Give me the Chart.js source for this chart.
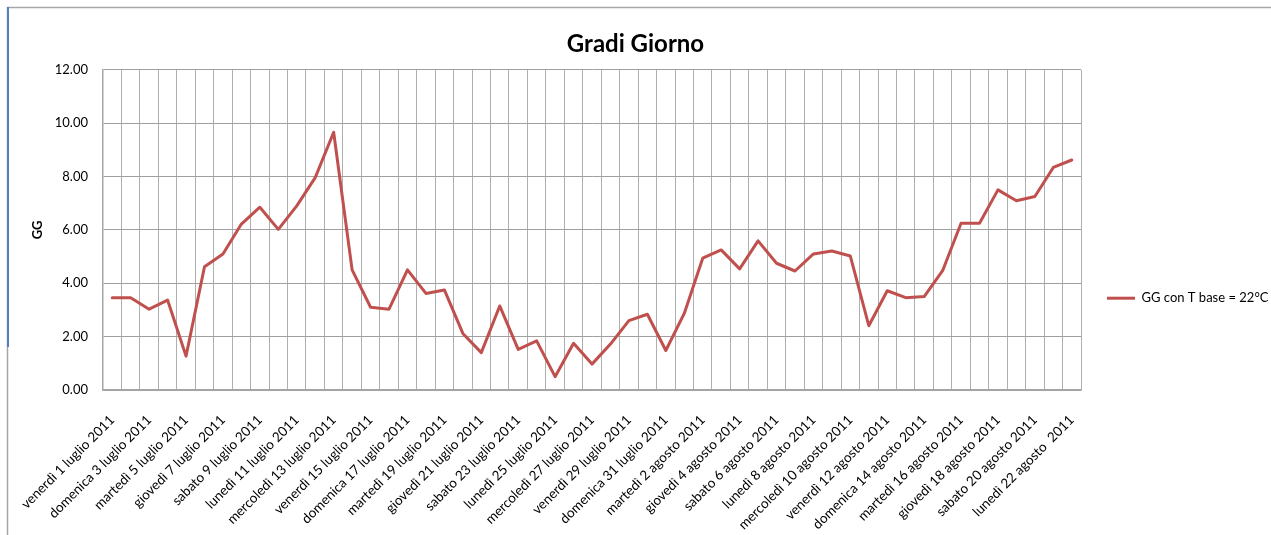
<!DOCTYPE html>
<html lang="it">
<head>
<meta charset="utf-8">
<title>Gradi Giorno</title>
<script src="https://cdn.jsdelivr.net/npm/chart.js@4.4.1/dist/chart.umd.min.js"></script>
<style>
  html, body { margin: 0; padding: 0; background: #ffffff; }
  #wrap { position: relative; width: 1271px; height: 535px; }
</style>
</head>
<body>
<div id="wrap"><canvas id="chart" width="1271" height="535"></canvas></div>
<script>
// Giorni del periodo (luglio e agosto 2011)
const giorniLuglio = [
  'venerdì 1 luglio 2011', 'sabato 2 luglio 2011', 'domenica 3 luglio 2011', 'lunedì 4 luglio 2011',
  'martedì 5 luglio 2011', 'mercoledì 6 luglio 2011', 'giovedì 7 luglio 2011', 'venerdì 8 luglio 2011',
  'sabato 9 luglio 2011', 'domenica 10 luglio 2011', 'lunedì 11 luglio 2011', 'martedì 12 luglio 2011',
  'mercoledì 13 luglio 2011', 'giovedì 14 luglio 2011', 'venerdì 15 luglio 2011', 'sabato 16 luglio 2011',
  'domenica 17 luglio 2011', 'lunedì 18 luglio 2011', 'martedì 19 luglio 2011', 'mercoledì 20 luglio 2011',
  'giovedì 21 luglio 2011', 'venerdì 22 luglio 2011', 'sabato 23 luglio 2011', 'domenica 24 luglio 2011',
  'lunedì 25 luglio 2011', 'martedì 26 luglio 2011', 'mercoledì 27 luglio 2011', 'giovedì 28 luglio 2011',
  'venerdì 29 luglio 2011', 'sabato 30 luglio 2011', 'domenica 31 luglio 2011'
];
const giorniAgosto = [
  'lunedì 1 agosto 2011', 'martedì 2 agosto 2011', 'mercoledì 3 agosto 2011', 'giovedì 4 agosto 2011',
  'venerdì 5 agosto 2011', 'sabato 6 agosto 2011', 'domenica 7 agosto 2011', 'lunedì 8 agosto 2011',
  'martedì 9 agosto 2011', 'mercoledì 10 agosto 2011', 'giovedì 11 agosto 2011', 'venerdì 12 agosto 2011',
  'sabato 13 agosto 2011', 'domenica 14 agosto 2011', 'lunedì 15 agosto 2011', 'martedì 16 agosto 2011',
  'mercoledì 17 agosto 2011', 'giovedì 18 agosto 2011', 'venerdì 19 agosto 2011', 'sabato 20 agosto 2011',
  'domenica 21 agosto 2011', 'lunedì 22 agosto  2011'
];

// Gradi giorno giornalieri con T base = 22 °C
const ggLuglio = [
  3.46, 3.46, 3.03, 3.37, 1.27, 4.62, 5.10, 6.22, 6.85, 6.02,
  6.90, 7.96, 9.66, 4.50, 3.10, 3.03, 4.50, 3.62, 3.75, 2.12,
  1.40, 3.15, 1.52, 1.84, 0.50, 1.75, 0.97, 1.72, 2.60, 2.84,
  1.48
];
const ggAgosto = [
  2.87, 4.94, 5.25, 4.54, 5.59, 4.75, 4.46, 5.10, 5.21, 5.02,
  2.41, 3.72, 3.46, 3.50, 4.47, 6.25, 6.25, 7.50, 7.09, 7.25,
  8.34, 8.62
];

// Asse Y: 0.00 - 12.00 a passi di 2
const yMin = 0;
const yMax = 12;
const yStep = 2;

// Un'etichetta ogni due giorni
const passoEtichette = 2;

const giorni = giorniLuglio.concat(giorniAgosto);
const gg = ggLuglio.concat(ggAgosto);

const FONT = "Lato, 'Open Sans', 'Noto Sans', sans-serif";
Chart.defaults.font.family = FONT;
Chart.defaults.color = '#000000';

// Cornice esterna dell'area del grafico
const cornice = {
  id: 'cornice',
  beforeDraw(chart) {
    const ctx = chart.ctx;
    ctx.save();
    ctx.strokeStyle = '#A6A6A6';
    ctx.lineWidth = 1.5;
    ctx.beginPath();
    ctx.moveTo(7, 7.5);
    ctx.lineTo(chart.width, 7.5);
    ctx.moveTo(7.5, 7);
    ctx.lineTo(7.5, chart.height);
    ctx.stroke();
    ctx.strokeStyle = '#4F81BD';
    ctx.lineWidth = 2;
    ctx.beginPath();
    ctx.moveTo(8, 7);
    ctx.lineTo(8, 347);
    ctx.stroke();
    ctx.restore();
  }
};

new Chart(document.getElementById('chart'), {
  type: 'line',
  data: {
    labels: giorni,
    datasets: [{
      label: 'GG con T base = 22°C',
      data: gg,
      borderColor: '#C0504D',
      backgroundColor: '#C0504D',
      borderWidth: 3,
      tension: 0,
      pointRadius: 0,
      pointHoverRadius: 0,
      borderJoinStyle: 'round',
      borderCapStyle: 'round',
      fill: false
    }]
  },
  options: {
    responsive: false,
    animation: false,
    events: [],
    layout: { padding: 0 },
    plugins: {
      title: {
        display: true,
        text: 'Gradi Giorno',
        color: '#000000',
        font: { family: FONT, size: 24, weight: 'bold' },
        padding: { top: 30, bottom: 11 }
      },
      legend: {
        display: true,
        position: 'right',
        maxWidth: 190,
        title: { display: true, text: '', font: { size: 12 }, padding: { top: 0, bottom: 47 } },
        labels: {
          usePointStyle: true,
          pointStyle: 'line',
          pointStyleWidth: 28,
          padding: 26,
          color: '#000000',
          font: { family: FONT, size: 13 }
        }
      },
      tooltip: { enabled: false }
    },
    scales: {
      x: {
        type: 'category',
        offset: true,
        afterFit(scale) { scale.height = 145; },
        grid: {
          offset: true,
          color: '#AFAFAF',
          lineWidth: 1,
          drawTicks: false
        },
        border: { display: true, color: '#A6A6A6', width: 1.5 },
        ticks: {
          autoSkip: false,
          minRotation: 45,
          maxRotation: 45,
          padding: 22,
          color: '#000000',
          font: { family: FONT, size: 13.5 },
          callback(value, index) {
            return index % passoEtichette === 0 ? this.getLabelForValue(value) : '';
          }
        }
      },
      y: {
        min: yMin,
        max: yMax,
        afterFit(scale) { scale.width = 103; },
        grid: {
          color: '#A0A0A0',
          lineWidth: 1,
          drawTicks: false
        },
        border: { display: true, color: '#A6A6A6', width: 1.5 },
        ticks: {
          stepSize: yStep,
          padding: 15,
          color: '#000000',
          font: { family: FONT, size: 13 },
          callback(value) { return Number(value).toFixed(2); }
        },
        title: {
          display: true,
          text: 'GG',
          color: '#000000',
          font: { family: FONT, size: 13, weight: 'bold' },
          padding: { top: 30, bottom: 0 }
        }
      }
    }
  },
  plugins: [cornice]
});
</script>
</body>
</html>
